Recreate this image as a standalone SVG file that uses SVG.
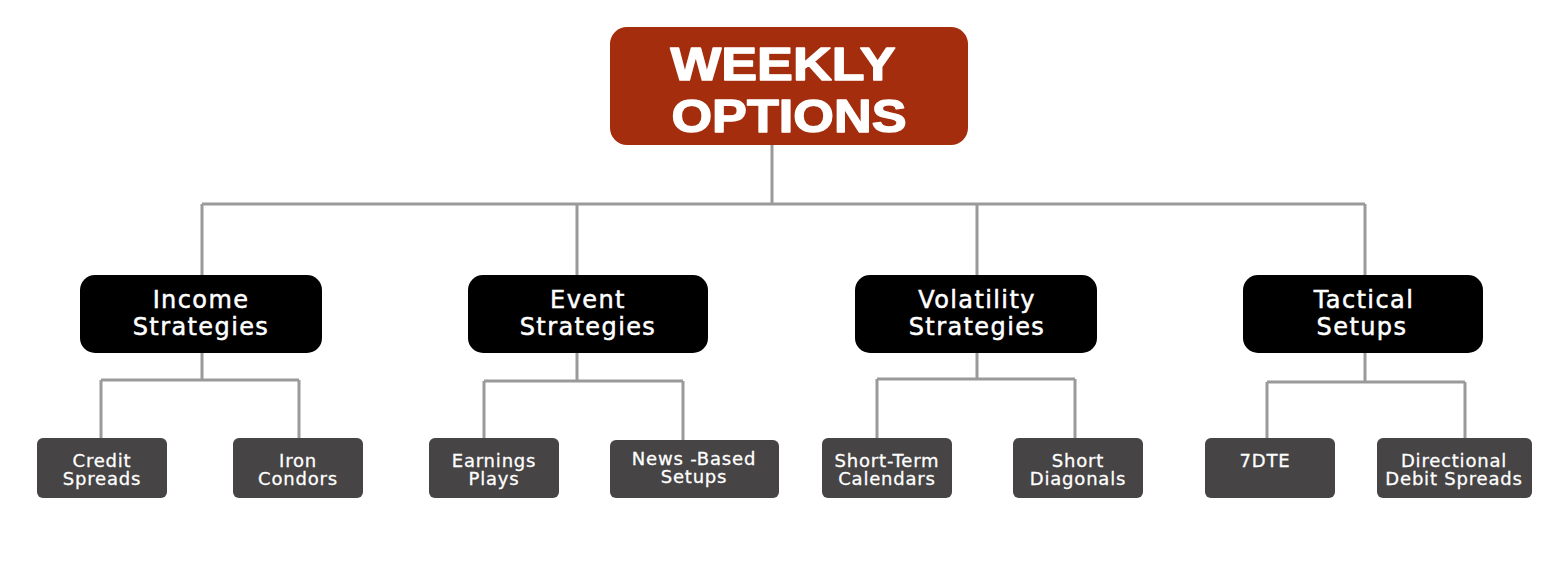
<svg xmlns="http://www.w3.org/2000/svg" width="1568" height="580" viewBox="0 0 1568 580">
<style>
.conn{fill:none;stroke:#9a9a9a;stroke-width:3}
.root{fill:#a32d0c}
.cat{fill:#000}
.leaf{fill:#464444}
.t1{font-family:"Liberation Sans",Arial,sans-serif;font-weight:bold;font-size:46px;fill:#fff;stroke:#fff;stroke-width:1.4px;stroke-linejoin:round;text-anchor:middle}
.t2{font-family:"DejaVu Sans",sans-serif;font-size:24px;fill:#fff;stroke:#fff;stroke-width:0.5px;text-anchor:middle;letter-spacing:1.4px}
.t3{font-family:"DejaVu Sans",sans-serif;font-size:18px;fill:#fff;stroke:#fff;stroke-width:0.3px;text-anchor:middle;letter-spacing:0.8px}
</style>
<rect width="1568" height="580" fill="#fff"/>
<g id="connectors">
<path class="conn" d="M772 145V204M202 204H1365M202 204V275M577 204V275M977 204V275M1365 204V275"/>
<path class="conn" d="M202 353V380M101 380H299M101 380V438M299 380V438"/>
<path class="conn" d="M577 353V381M484 381H683M484 381V438M683 381V440"/>
<path class="conn" d="M977 353V379M877 379H1075M877 379V438M1075 379V438"/>
<path class="conn" d="M1365 353V382M1267 382H1465M1267 382V438M1465 382V438"/>
</g>
<g id="root">
<rect class="root" x="610" y="27" width="358" height="118" rx="17"/>
<text class="t1" x="783" y="80" textLength="225" lengthAdjust="spacingAndGlyphs">WEEKLY</text>
<text class="t1" x="789" y="132" textLength="235" lengthAdjust="spacingAndGlyphs">OPTIONS</text>
</g>
<g id="income">
<rect class="cat" x="80" y="275" width="242" height="78" rx="15"/>
<text class="t2" x="201" y="308">Income</text>
<text class="t2" x="201" y="335">Strategies</text>
</g>
<g id="event">
<rect class="cat" x="468" y="275" width="240" height="78" rx="15"/>
<text class="t2" x="588" y="308">Event</text>
<text class="t2" x="588" y="335">Strategies</text>
</g>
<g id="volatility">
<rect class="cat" x="855" y="275" width="242" height="78" rx="15"/>
<text class="t2" x="977" y="308">Volatility</text>
<text class="t2" x="977" y="335">Strategies</text>
</g>
<g id="tactical">
<rect class="cat" x="1243" y="275" width="240" height="78" rx="15"/>
<text class="t2" x="1364" y="308">Tactical</text>
<text class="t2" x="1362" y="335">Setups</text>
</g>
<g id="credit">
<rect class="leaf" x="37" y="438" width="130" height="60" rx="6"/>
<text class="t3" x="102" y="467">Credit</text>
<text class="t3" x="102" y="485">Spreads</text>
</g>
<g id="iron">
<rect class="leaf" x="233" y="438" width="130" height="60" rx="6"/>
<text class="t3" x="298" y="467">Iron</text>
<text class="t3" x="298" y="485">Condors</text>
</g>
<g id="earnings">
<rect class="leaf" x="429" y="438" width="130" height="60" rx="6"/>
<text class="t3" x="494" y="467">Earnings</text>
<text class="t3" x="494" y="485">Plays</text>
</g>
<g id="news">
<rect class="leaf" x="610" y="440" width="169" height="58" rx="6"/>
<text class="t3" x="694" y="465">News -Based</text>
<text class="t3" x="694" y="483">Setups</text>
</g>
<g id="shortterm">
<rect class="leaf" x="822" y="438" width="130" height="60" rx="6"/>
<text class="t3" x="887" y="467">Short-Term</text>
<text class="t3" x="887" y="485">Calendars</text>
</g>
<g id="diagonals">
<rect class="leaf" x="1013" y="438" width="130" height="60" rx="6"/>
<text class="t3" x="1078" y="467">Short</text>
<text class="t3" x="1078" y="485">Diagonals</text>
</g>
<g id="dte">
<rect class="leaf" x="1205" y="438" width="130" height="60" rx="6"/>
<text class="t3" x="1265" y="467">7DTE</text>
</g>
<g id="directional">
<rect class="leaf" x="1377" y="438" width="155" height="60" rx="6"/>
<text class="t3" x="1454" y="467">Directional</text>
<text class="t3" x="1454" y="485">Debit Spreads</text>
</g>
</svg>
